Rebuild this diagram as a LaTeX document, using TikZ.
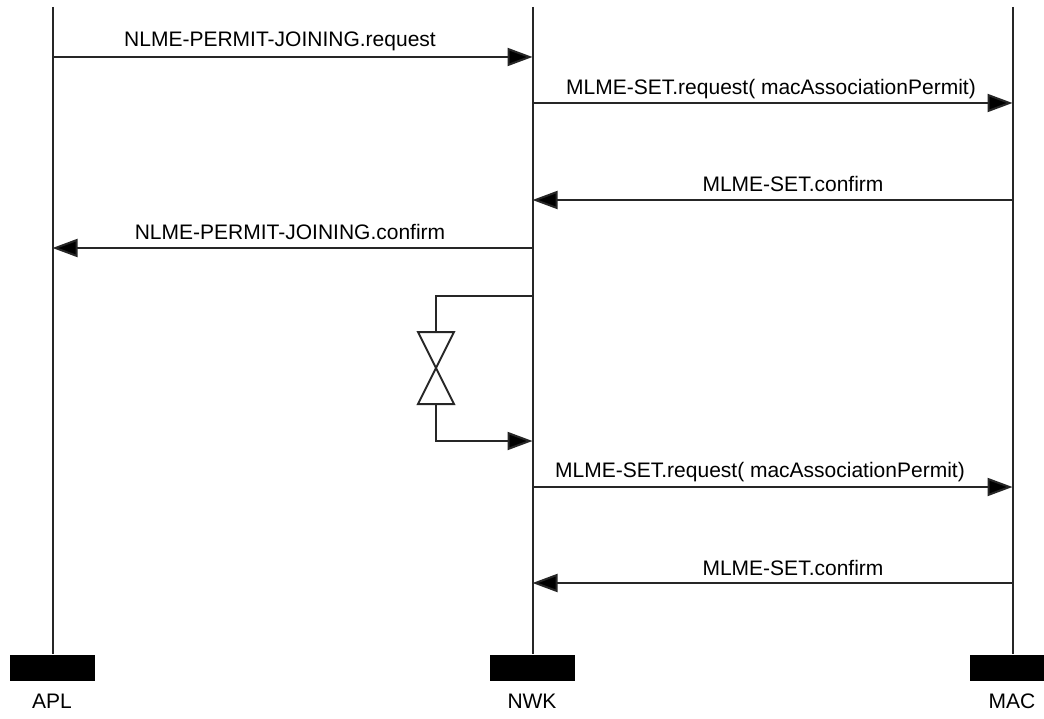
\documentclass[tikz,border=0pt]{standalone}
\usepackage{fontspec}
\setmainfont{Liberation Sans}
\usetikzlibrary{arrows.meta,positioning}

\begin{document}
\begin{tikzpicture}[
  x=1pt,y=-1pt,
  font=\fontsize{21}{25}\selectfont,
  line width=2pt,
  lifeline/.style={draw=black!85},
  bar/.style={fill=black,minimum width=85pt,minimum height=26pt,inner sep=0pt},
  entity/.style={inner sep=0pt,anchor=base},
  msg/.style={draw=black!85,-{Triangle[length=25pt,width=18pt,fill=black]}},
  msglabel/.style={inner sep=0pt,anchor=base},
  timer/.style={draw=black!85,fill=white,line join=miter}
]
\useasboundingbox (0,0) rectangle (1044,719);

% Entities with their bars and names.
\node[bar] (aplbar) at (52.5,667.5) {};
\node[bar] (nwkbar) at (532.5,667.5) {};
\node[bar] (macbar) at (1012.5,667.5) {};
\node[entity] (apl) at (52,708) {APL};
\node[entity] (nwk) at (532,708) {NWK};
\node[entity] (mac) at (1012,708) {MAC};
\coordinate (apltop) at (52.5,7);
\coordinate (nwktop) at (532.5,7);
\coordinate (mactop) at (1012.5,7);

% Lifelines.
\draw[lifeline] (apltop) -- (aplbar.north);
\draw[lifeline] (nwktop) -- (nwkbar.north);
\draw[lifeline] (mactop) -- (macbar.north);

% Message rows.
\coordinate (m1) at (0,57);
\coordinate (m2) at (0,103);
\coordinate (m3) at (0,200);
\coordinate (m4) at (0,248);
\coordinate (m5) at (0,487);
\coordinate (m6) at (0,583);

% Permit joining request and the first MLME exchange.
\draw[msg] (apltop |- m1) -- (nwktop |- m1);
\node[msglabel] (req) at (280,47) {NLME-PERMIT-JOINING.request};
\draw[msg] (nwktop |- m2) -- (mactop |- m2);
\node[msglabel] (set1) at (771,95) {MLME-SET.request( macAssociationPermit)};
\draw[msg] (mactop |- m3) -- (nwktop |- m3);
\node[msglabel] (conf1) at (793,192) {MLME-SET.confirm};
\draw[msg] (nwktop |- m4) -- (apltop |- m4);
\node[msglabel] (conf) at (290,240) {NLME-PERMIT-JOINING.confirm};

% Timer on the NWK lifeline.
\coordinate (tstart) at (532.5,296);
\coordinate (tend) at (532.5,441);
\coordinate (hg) at (436,368);
\draw[lifeline] (tstart) -| ([yshift=-36pt]hg);
\draw[msg] ([yshift=36pt]hg) |- (tend);
\draw[timer] ([shift={(-18pt,-36pt)}]hg) -- ([shift={(18pt,-36pt)}]hg)
  -- ([shift={(-18pt,36pt)}]hg) -- ([shift={(18pt,36pt)}]hg) -- cycle;

% Second MLME exchange.
\draw[msg] (nwktop |- m5) -- (mactop |- m5);
\node[msglabel] (set2) at (760,477) {MLME-SET.request( macAssociationPermit)};
\draw[msg] (mactop |- m6) -- (nwktop |- m6);
\node[msglabel] (conf2) at (793,575) {MLME-SET.confirm};
\end{tikzpicture}
\end{document}
